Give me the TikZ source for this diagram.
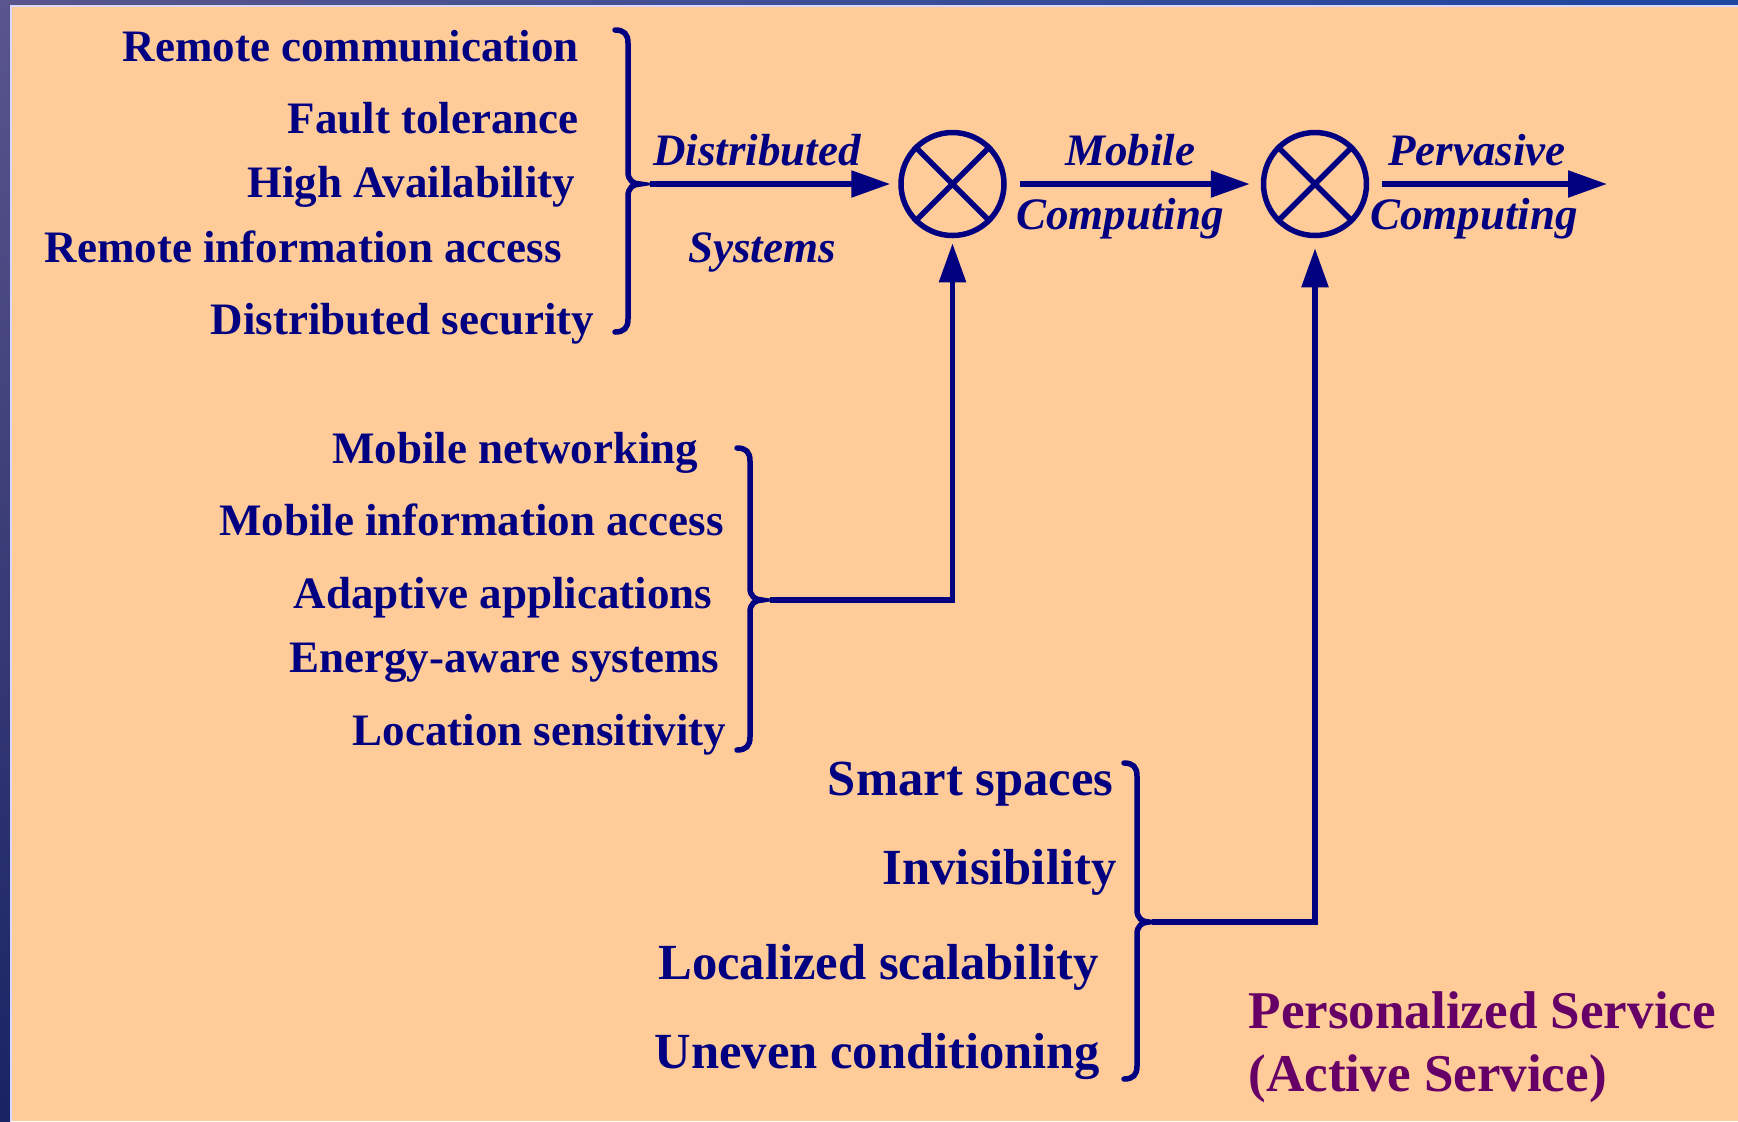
\documentclass[tikz,border=0pt]{standalone}
\usepackage{fontspec}
\setmainfont{Liberation Serif}
\usetikzlibrary{arrows.meta}
\definecolor{peach}{RGB}{255,203,153}
\definecolor{navy}{RGB}{0,0,128}
\definecolor{purp}{RGB}{102,0,102}
\definecolor{bordtop}{RGB}{90,85,140}
\definecolor{bordbot}{RGB}{25,35,100}
\newcommand\mkbrace[5]{%
  \draw[brc] (#1-13,#2) .. controls (#1-4,#2) and (#1,#2+4) .. (#1,#2+13)
    -- (#1,#3-12) .. controls (#1,#3-4) and (#1+5,#3) .. (#1+12,#3)
    .. controls (#1+5,#3) and (#1,#3+4) .. (#1,#3+12)
    -- (#1,#4-13) .. controls (#1,#4-4) and (#1-4,#4) .. (#1-13,#4);
  \coordinate (#5) at (#1+12,#3);}
\tikzset{
  ln/.style={draw=navy, line width=0.55mm},
  brc/.style={ln, line cap=round},
  arr/.style={ln, -{Triangle[length=3.9mm,width=2.6mm]}},
  txt/.style={inner sep=0, text=navy, anchor=base east, font=\bfseries\fontsize{12.8}{15}\selectfont},
  bigtxt/.style={txt, font=\bfseries\fontsize{14.4}{17}\selectfont},
  lbl/.style={inner sep=0, text=navy, anchor=base, font=\bfseries\itshape\fontsize{12.8}{15}\selectfont},
  ptxt/.style={inner sep=0, text=purp, anchor=base west, font=\bfseries\fontsize{15.1}{18}\selectfont},
  xcirc/.style={circle, draw=navy, line width=0.55mm, minimum size=10.3mm, inner sep=0}
}
\begin{document}
\begin{tikzpicture}[x=0.1mm,y=-0.1mm]
\useasboundingbox (0,0) rectangle (1738,1121);
% background and frame
\fill[peach] (0,0) rectangle (1738,1121);
\shade[top color=bordtop, bottom color=bordbot] (0,0) rectangle (10,1121);
\shade[left color=bordtop, right color={rgb,255:red,30;green,70;blue,160}] (0,0) rectangle (1738,5);
\fill[white!85!blue] (10,5) rectangle (11.5,1121);
\fill[white!85!blue] (10,5) rectangle (1738,6.5);

% group 1
\node[txt] (r1) at (579.5,61) {Remote communication};
\node[txt] (r2) at (579.5,133) {Fault tolerance};
\node[txt] (r3) at (576,197) {High Availability};
\node[txt] (r4) at (562.5,262) {Remote information access};
\node[txt] (r5) at (595,334) {Distributed security};
\mkbrace{628}{30}{184}{332}{b1}

% group 2
\node[txt] (m1) at (699,463) {Mobile networking};
\node[txt] (m2) at (724.5,535) {Mobile information access};
\node[txt] (m3) at (713,608) {Adaptive applications};
\node[txt] (m4) at (720,672) {Energy-aware systems};
\node[txt] (m5) at (727,745) {Location sensitivity};
\mkbrace{750}{448}{600}{750}{b2}

% group 3
\node[bigtxt] (p1) at (1114,795) {Smart spaces};
\node[bigtxt] (p2) at (1117,884) {Invisibility};
\node[bigtxt] (p3) at (1099,979) {Localized scalability};
\node[bigtxt] (p4) at (1101,1068) {Uneven conditioning};
\mkbrace{1137}{763}{922}{1079}{b3}

% combiners
\node[xcirc] (c1) at (952.5,184) {};
\node[xcirc] (c2) at (1315,184) {};
\draw[ln] (c1.45) -- (c1.225) (c1.135) -- (c1.315);
\draw[ln] (c2.45) -- (c2.225) (c2.135) -- (c2.315);

% connectors
\coordinate (b1s) at (650,184);
\coordinate (b2s) at (770,600);
\coordinate (b3s) at (1152,922);
\coordinate (out) at (1607,184);
\draw[arr, shorten >=0.8mm] (b1s) -- (c1);
\draw[arr, shorten <=1.3mm, shorten >=1.1mm] (c1) -- (c2);
\draw[arr, shorten <=1.3mm] (c2) -- (out);
\draw[arr, shorten >=0.5mm] (b2s) -| (c1.south);
\draw[arr, shorten >=1mm] (b3s) -| (c2.south);

% labels
\node[lbl] (l1) at (757,165) {Distributed};
\node[lbl] (l2) at (762,262) {Systems};
\node[lbl] (l3) at (1130,165) {Mobile};
\node[lbl] (l4) at (1120,229) {Computing};
\node[lbl] (l5) at (1477,165) {Pervasive};
\node[lbl] (l6) at (1474,229) {Computing};

% personalized service
\node[ptxt] (ps1) at (1248,1028) {Personalized Service};
\node[ptxt] (ps2) at (1248,1091) {(Active Service)};
\end{tikzpicture}
\end{document}
